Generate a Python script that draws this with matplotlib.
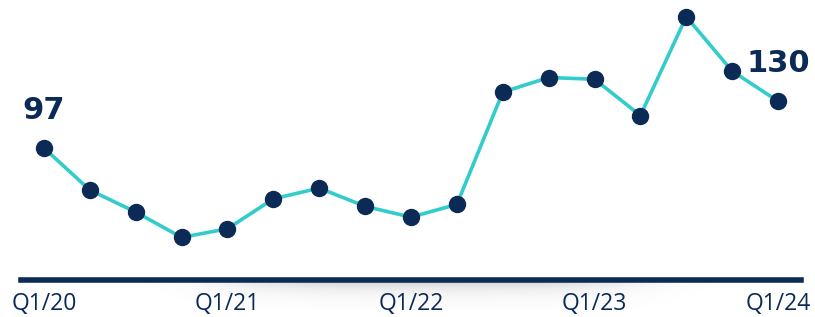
import numpy as np
import matplotlib
matplotlib.use("Agg")
import matplotlib.pyplot as plt

# quarterly series, Q1/20 .. Q1/24
quarters = ["Q1/20", "Q2/20", "Q3/20", "Q4/20",
            "Q1/21", "Q2/21", "Q3/21", "Q4/21",
            "Q1/22", "Q2/22", "Q3/22", "Q4/22",
            "Q1/23", "Q2/23", "Q3/23", "Q4/23",
            "Q1/24"]
values = [97, 67.3, 51.8, 33.9, 40, 61.1, 68.7, 55.8, 48.2, 57.2,
          136.4, 146.7, 145.5, 119.9, 189.6, 151.2, 130]
tick_labels = ["Q1/20", "Q1/21", "Q1/22", "Q1/23", "Q1/24"]
labelled = {0: "97", 16: "130"}

NAVY = "#0b2a55"
TEAL = "#33cccc"

W, H = 815, 317
fig = plt.figure(figsize=(W / 100, H / 100), dpi=100)
ax = fig.add_axes([21 / W, 37.5 / H, 780 / W, 279.5 / H])

x = np.arange(len(values))
ax.plot(x, values, color=TEAL, lw=2.6, zorder=2, clip_on=False)
ax.plot(x, values, "o", ms=11.5, color=NAVY, zorder=3, clip_on=False)

for i, txt in labelled.items():
    ax.annotate(txt, (x[i], values[i]), xytext=(0, 27), textcoords="offset points",
                ha="center", va="center", fontsize=22, fontweight="heavy",
                family="DejaVu Sans", color=NAVY)

ax.set_xlim(-0.5, 16.5)
ax.set_ylim(4.2, 201.4)

for s in ["top", "right", "left"]:
    ax.spines[s].set_visible(False)
ax.spines["bottom"].set_color(NAVY)
ax.spines["bottom"].set_linewidth(4)
ax.set_yticks([])
ax.set_xticks([quarters.index(t) for t in tick_labels])
ax.set_xticklabels(tick_labels, fontsize=16.5, family="Open Sans", color=NAVY)
ax.tick_params(axis="x", length=0, pad=9)

# soft shadow under the baseline
sh = fig.add_axes([90 / W, 8 / H, 680 / W, 27 / H])
gx = np.linspace(-1, 1, 300)
gy = np.linspace(0, 1, 40)
GX, GY = np.meshgrid(gx, gy)
alpha = np.exp(-(GX / 0.6) ** 4) * np.exp(-GY * 3.0) * 0.25
img = np.zeros((40, 300, 4))
img[..., :3] = 0.35
img[..., 3] = alpha
sh.imshow(img, aspect="auto", extent=(0, 1, 0, 1), origin="upper")
sh.axis("off")
sh.set_zorder(-1)

fig.savefig("out.png", dpi=100)
